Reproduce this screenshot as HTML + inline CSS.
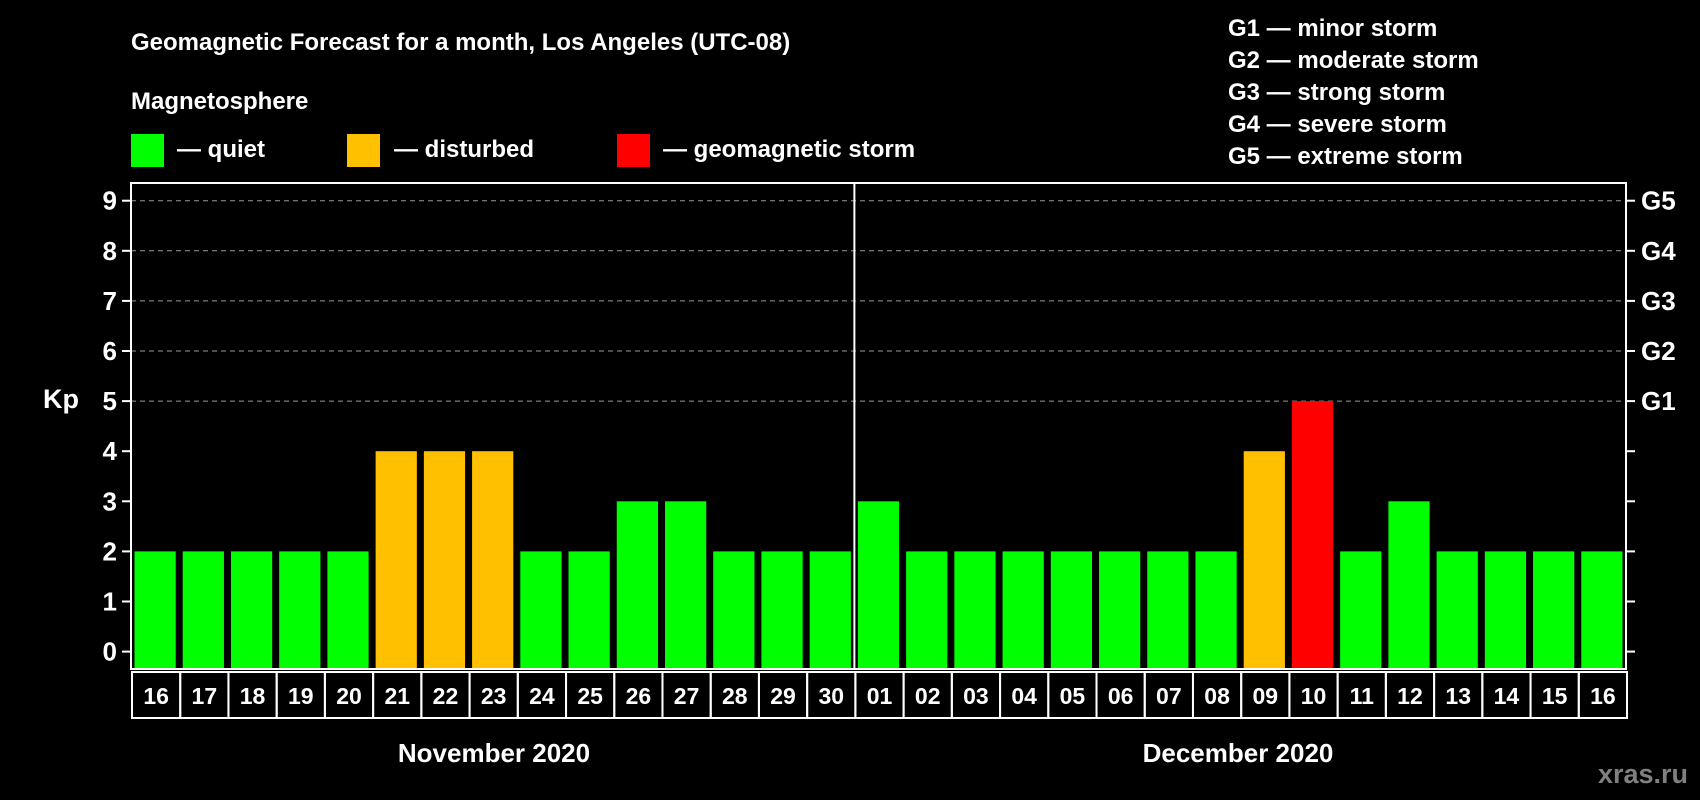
<!DOCTYPE html>
<html><head><meta charset="utf-8"><style>
html,body{margin:0;padding:0;background:#000;}
svg{display:block;font-family:"Liberation Sans",Arial,sans-serif;font-weight:bold;}
</style></head><body>
<svg id="chart" width="1700" height="800" viewBox="0 0 1700 800">
<rect width="1700" height="800" fill="#000"/>
<text x="131" y="50" font-size="24" fill="#fff">Geomagnetic Forecast for a month, Los Angeles (UTC-08)</text>
<text x="131" y="109" font-size="24" fill="#fff">Magnetosphere</text>
<g><rect x="131" y="134" width="33" height="33" fill="#00ff00"/><text x="177" y="157" font-size="24" fill="#fff">— quiet</text></g>
<g><rect x="347" y="134" width="33" height="33" fill="#ffc000"/><text x="394" y="157" font-size="24" fill="#fff">— disturbed</text></g>
<g><rect x="617" y="134" width="33" height="33" fill="#ff0000"/><text x="663" y="157" font-size="24" fill="#fff">— geomagnetic storm</text></g>
<g font-size="24" fill="#fff">
<text x="1228" y="36">G1 — minor storm</text>
<text x="1228" y="68">G2 — moderate storm</text>
<text x="1228" y="100">G3 — strong storm</text>
<text x="1228" y="132">G4 — severe storm</text>
<text x="1228" y="164">G5 — extreme storm</text>
</g>
<text x="43" y="408" font-size="27" fill="#fff">Kp</text>
<text x="494" y="762" font-size="26" fill="#fff" text-anchor="middle">November 2020</text>
<text x="1238" y="762" font-size="26" fill="#fff" text-anchor="middle">December 2020</text>
<text x="1688" y="783" font-size="27" fill="#808080" text-anchor="end">xras.ru</text>
<g id="plot"></g>
</svg>
<script>
const days=["16","17","18","19","20","21","22","23","24","25","26","27","28","29","30","01","02","03","04","05","06","07","08","09","10","11","12","13","14","15","16"];
const kp=[2,2,2,2,2,4,4,4,2,2,3,3,2,2,2,3,2,2,2,2,2,2,2,4,5,2,3,2,2,2,2];
const yTicks=[0,1,2,3,4,5,6,7,8,9];
const gLabels=["G1","G2","G3","G4","G5"];
const L=131,R=1626,T=183,B=669;
const y=v=>651.6-v*50.1;
const slot=(R-L)/days.length;
const x=i=>L+i*slot;
const NS="http://www.w3.org/2000/svg";
const g=document.getElementById('plot');
function mk(t,a){const e=document.createElementNS(NS,t);for(const k in a)e.setAttribute(k,a[k]);g.appendChild(e);return e;}
yTicks.forEach(v=>{
 if(v>=5){const l=mk('line',{x1:L,x2:R,y1:y(v),y2:y(v),stroke:'#999','stroke-dasharray':'5,4','stroke-width':1});
 
 }
 const t1=mk('line',{x1:L-9,x2:L,y1:y(v),y2:y(v),stroke:'#fff','stroke-width':2});
 
 
 const t2=mk('line',{x1:R,x2:R+9,y1:y(v),y2:y(v),stroke:'#fff','stroke-width':2});
 
 
 const tx=mk('text',{x:L-14,y:y(v)+9,'font-size':26,fill:'#fff','text-anchor':'end'});
 tx.textContent=v;
 
 
});
gLabels.forEach((s,i)=>{
 const tx=mk('text',{x:1641,y:y(5+i)+9,'font-size':26,fill:'#fff'});
 tx.textContent=s;
 
 
});
kp.forEach((v,i)=>{
 const c=v>=5?'#ff0000':(v>=4?'#ffc000':'#00ff00');
 const r=mk('rect',{x:x(i)+3.5,y:y(v),width:slot-7,height:B-y(v),fill:c});
 
 
 const cell=mk('rect',{x:x(i)+1,y:B+3,width:slot,height:46,fill:'none',stroke:'#fff','stroke-width':2});
 
 
 const tx=mk('text',{x:x(i)+slot/2+1,y:B+35,'font-size':23,fill:'#fff','text-anchor':'middle'});
 tx.textContent=days[i];
 
 
});
const div=mk('line',{x1:x(15),x2:x(15),y1:T,y2:B,stroke:'#fff','stroke-width':2});


const frame=mk('rect',{x:L,y:T,width:R-L,height:B-T,fill:'none',stroke:'#fff','stroke-width':2});


</script>
</body></html>
